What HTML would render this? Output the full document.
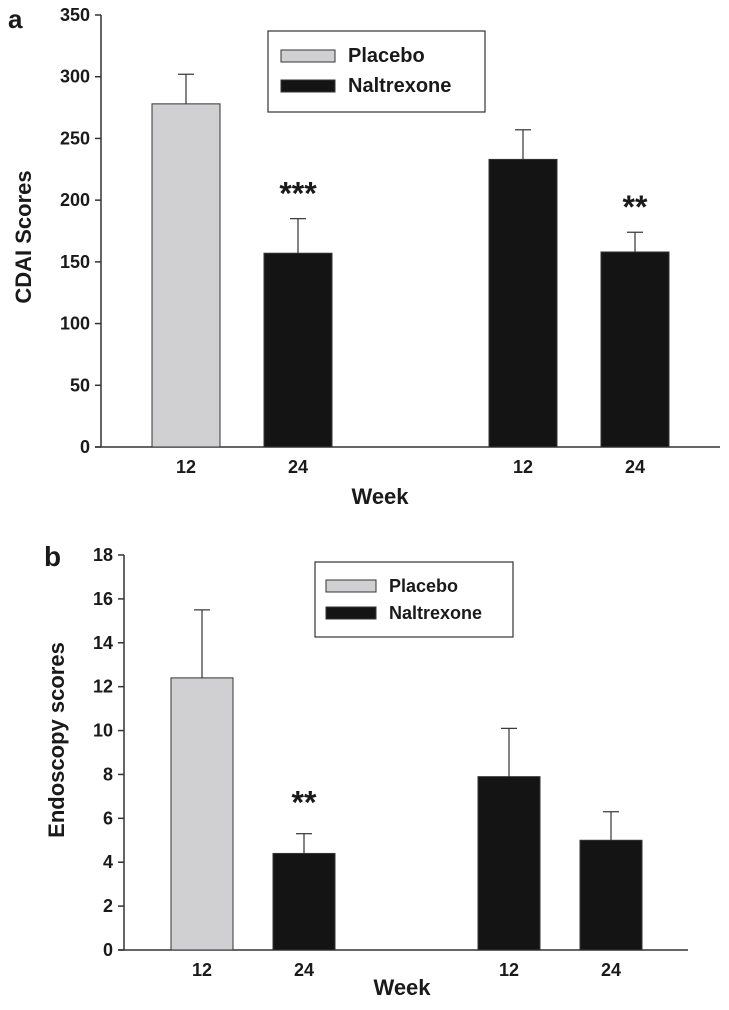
<!DOCTYPE html>
<html><head><meta charset="utf-8"><style>
body{margin:0;background:#fff;}
svg text{font-family:"Liberation Sans",Arial,sans-serif;font-weight:bold;fill:#1a1a1a;}
</style></head><body>
<svg id="svg" width="729" height="1005" xmlns="http://www.w3.org/2000/svg">
<text x="8" y="28" font-size="26">a</text>
<text x="44" y="566" font-size="28">b</text>
</svg>
<script>
const NS="http://www.w3.org/2000/svg";
const svg=document.getElementById('svg');
// panel a data
const aWeeks=["12","24","12","24"];
const aGroups=["Placebo","Naltrexone","Naltrexone","Naltrexone"];
const aValues=[278,157,233,158];
const aErrors=[24,28,24,16];
const aStars=["","***","","**"];
const aTicks=[0,50,100,150,200,250,300,350];
// panel b data
const bWeeks=["12","24","12","24"];
const bGroups=["Placebo","Naltrexone","Naltrexone","Naltrexone"];
const bValues=[12.4,4.4,7.9,5.0];
const bErrors=[3.1,0.9,2.2,1.3];
const bStars=["","**","",""];
const bTicks=[0,2,4,6,8,10,12,14,16,18];

function el(tag,attrs,txt){const e=document.createElementNS(NS,tag);for(const k in attrs)e.setAttribute(k,attrs[k]);if(txt!==undefined)e.textContent=txt;svg.appendChild(e);return e;}

function panel(p,cfg,weeks,groups,values,errors,stars,ticks){
  const y=v=>cfg.y0-(v-cfg.min)/(cfg.max-cfg.min)*(cfg.y0-cfg.y1);
  let e=el('line',{x1:cfg.ax,y1:cfg.y1,x2:cfg.ax,y2:cfg.y0,stroke:'#333','stroke-width':1.5});
  
  e=el('line',{x1:cfg.ax-6,y1:cfg.y0,x2:cfg.axEnd,y2:cfg.y0,stroke:'#333','stroke-width':1.5});
  
  ticks.forEach(t=>{
    e=el('line',{x1:cfg.ax-6,y1:y(t),x2:cfg.ax,y2:y(t),stroke:'#333','stroke-width':1.5});
    
    e=el('text',{x:cfg.ax-11,y:y(t)+6,'font-size':18,'text-anchor':'end'},String(t));
    
  });
  values.forEach((v,i)=>{
    const x=cfg.barX[i],w=cfg.barW,cx=x+w/2;
    const et=y(v+errors[i]);
    e=el('line',{x1:cx,y1:et,x2:cx,y2:y(v),stroke:'#333','stroke-width':1.2});
    
    e=el('line',{x1:cx-8,y1:et,x2:cx+8,y2:et,stroke:'#333','stroke-width':1.2});
    
    e=el('rect',{x:x,y:y(v),width:w,height:cfg.y0-y(v),fill:groups[i]==='Placebo'?'#d0d0d2':'#141414',stroke:'#333','stroke-width':1});
    
    e=el('text',{x:cx,y:cfg.y0+26,'font-size':18,'text-anchor':'middle'},weeks[i]);
    
    if(stars[i]){
      e=el('text',{x:cx,y:et-cfg.starGap,'font-size':32,'text-anchor':'middle'},stars[i]);
      
    }
  });
  e=el('text',{x:cfg.weekX,y:cfg.weekY,'font-size':22,'text-anchor':'middle'},'Week');
  
  e=el('text',{x:0,y:0,'font-size':cfg.tSize,'text-anchor':'middle',transform:`translate(${cfg.tX},${cfg.tY}) rotate(-90)`},cfg.title);
  
  const L=cfg.leg;
  e=el('rect',{x:L.x,y:L.y,width:L.w,height:L.h,fill:'#fff',stroke:'#333','stroke-width':1.2});
  
  [['Placebo','#d0d0d2'],['Naltrexone','#141414']].forEach((g,j)=>{
    e=el('rect',{x:L.sx,y:L.sy+j*L.dy,width:L.sw,height:12,fill:g[1],stroke:'#333','stroke-width':1});
    
    e=el('text',{x:L.tx,y:L.sy+12+j*L.dy,'font-size':L.fs},g[0]);
    
  });
}
panel('a',{ax:101,axEnd:720,y0:447,y1:15,min:0,max:350,barX:[152,264,489,601],barW:68,starGap:14,
  weekX:380,weekY:504,title:'CDAI Scores',tX:31,tY:237,tSize:22,
  leg:{x:268,y:31,w:217,h:81,sx:281,sy:50,sw:54,dy:30,tx:348,fs:20}},aWeeks,aGroups,aValues,aErrors,aStars,aTicks);
panel('b',{ax:124,axEnd:688,y0:950,y1:555,min:0,max:18,barX:[171,273,478,580],barW:62,starGap:20,
  weekX:402,weekY:995,title:'Endoscopy scores',tX:64,tY:740,tSize:22,
  leg:{x:315,y:562,w:198,h:75,sx:326,sy:580,sw:50,dy:27,tx:389,fs:18}},bWeeks,bGroups,bValues,bErrors,bStars,bTicks);
</script>
</body></html>
